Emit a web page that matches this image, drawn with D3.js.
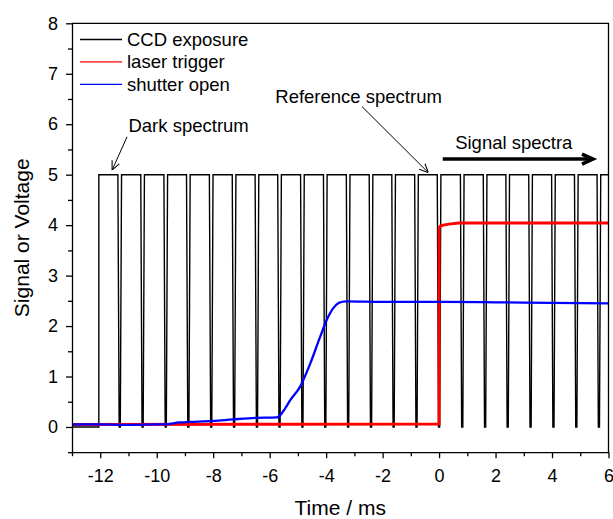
<!DOCTYPE html>
<html>
<head>
<meta charset="utf-8">
<script src="https://cdn.jsdelivr.net/npm/d3@7"></script>
<style>
  body { margin: 0; background: #fff; }
  svg { display: block; font-family: "Liberation Sans", Arial, sans-serif; }
</style>
</head>
<body>
<svg id="chart" width="613" height="519"></svg>
<script>
const width = 613
const height = 519
const margin = { top: 23.3, right: 4.5, bottom: 66.8, left: 72 }

// CCD exposure: starts at first edge, high at 5 with short dips to 0
const ccdStart = -12.05
const ccdHigh = 5
const ccdDips = [-11.31, -10.50, -9.68, -8.88, -8.07, -7.26, -6.45, -5.65, -4.84, -4.03,
    -3.22, -2.41, -1.61, -0.80, 0.0, 0.82, 1.63, 2.43, 3.24, 4.05, 4.86, 5.66]

// laser trigger (time, volts)
const laserT = [-13, -6, 0, 0.0, 0.05, 0.15, 0.35, 0.7, 2, 4, 6]
const laserV = [0.05, 0.055, 0.06, 3.95, 3.98, 4.0, 4.02, 4.04, 4.04, 4.04, 4.04]

// shutter open (time, volts)
const shutterT = [-13, -12, -11, -10, -9.7, -9.2, -8.8, -8, -7.3, -6.5, -5.75, -5.6, -5.45, -5.27, -4.92,
    -4.56, -4.21, -3.98, -3.74, -3.55, -3.3, -2, 0, 2, 4, 6]
const shutterV = [0.05, 0.05, 0.04, 0.05, 0.05, 0.09, 0.1, 0.12, 0.15, 0.18, 0.19, 0.25, 0.37, 0.53, 0.8,
    1.26, 1.79, 2.12, 2.36, 2.46, 2.49, 2.48, 2.48, 2.47, 2.46, 2.45]

const xMajor = [-12, -10, -8, -6, -4, -2, 0, 2, 4, 6]
const xMinor = [-13, -11, -9, -7, -5, -3, -1, 1, 3, 5]
const yMajor = [0, 1, 2, 3, 4, 5, 6, 7, 8]
const yMinor = [-0.5, 0.5, 1.5, 2.5, 3.5, 4.5, 5.5, 6.5, 7.5]

const legendItems = [
    { name: 'CCD exposure', color: '#000000' },
    { name: 'laser trigger', color: '#ff0000' },
    { name: 'shutter open', color: '#0000ff' }
]

const svg = d3.select('#chart')

const x = d3.scaleLinear()
    .domain([-13, 6])
    .range([margin.left, width - margin.right])

const y = d3.scaleLinear()
    .domain([-0.5, 8])
    .range([height - margin.bottom, margin.top])

svg.append("defs").append("clipPath").attr("id", "plot")
    .append("rect")
    .attr("x", x(-13)).attr("y", y(8))
    .attr("width", x(6) - x(-13)).attr("height", y(-0.5) - y(8))

// ccd path
const dipHalf = 0.065, dipFlat = 0.02
const ccdPts = [[-13, 0], [ccdStart, 0], [ccdStart, ccdHigh]]
ccdDips.forEach(d => {
    ccdPts.push([d - dipHalf, ccdHigh], [d - dipFlat, 0], [d + dipFlat, 0], [d + dipHalf, ccdHigh])
})
ccdPts.push([6, ccdHigh])

const line = d3.line().x(d => x(d[0])).y(d => y(d[1]))

const traces = svg.append("g").attr("clip-path", "url(#plot)")

traces.append("path")
    .attr("d", line(ccdPts))
    .attr("fill", "none")
    .attr("stroke", "#000")
    .attr("stroke-width", 1.4)

traces.append("path")
    .attr("d", line(laserT.map((t, i) => [t, laserV[i]])))
    .attr("fill", "none")
    .attr("stroke", "#ff0000")
    .attr("stroke-width", 3)

traces.append("path")
    .attr("d", line.curve(d3.curveMonotoneX)(shutterT.map((t, i) => [t, shutterV[i]])))
    .attr("fill", "none")
    .attr("stroke", "#0000ff")
    .attr("stroke-width", 2.3)
    .attr("stroke-linejoin", "round")

// axes
const xAxis = g => g
    .attr("transform", `translate(0,${y(-0.5)})`)
    .call(d3.axisBottom(x).tickValues(xMajor).tickSize(6).tickPadding(11).tickSizeOuter(0))
    .call(g => g.append("g").call(d3.axisBottom(x).tickValues(xMinor).tickSize(4).tickFormat(""))
        .call(g => g.select(".domain").remove()))

const yAxis = g => g
    .attr("transform", `translate(${x(-13)},0)`)
    .call(d3.axisLeft(y).tickValues(yMajor).tickSize(6).tickPadding(8).tickSizeOuter(0))
    .call(g => g.append("g").call(d3.axisLeft(y).tickValues(yMinor).tickSize(4).tickFormat(""))
        .call(g => g.select(".domain").remove()))

svg.append("g").call(xAxis)
svg.append("g").call(yAxis)

svg.selectAll(".tick text")
    .attr("font-family", "Liberation Sans, Arial, sans-serif")
    .attr("font-size", 18)
    .text(function () { return d3.select(this).text().replace("\u2212", "-") })
svg.selectAll(".domain, .tick line").attr("stroke", "#000").attr("stroke-width", 1.3)

// frame top and right
svg.append("path")
    .attr("d", `M${x(-13)},${y(8)}H${x(6)}V${y(-0.5)}`)
    .attr("fill", "none")
    .attr("stroke", "#000")
    .attr("stroke-width", 1.3)

// axis titles
svg.append("text")
    .attr("x", (x(-13) + x(6)) / 2)
    .attr("y", 515)
    .attr("text-anchor", "middle")
    .attr("font-size", 21)
    .text("Time / ms")

svg.append("text")
    .attr("transform", `translate(29,${(y(-0.5) + y(8)) / 2}) rotate(-90)`)
    .attr("text-anchor", "middle")
    .attr("font-size", 21)
    .text("Signal or Voltage")

// legend
const legend = svg.append("g").attr("transform", "translate(80,39.5)")
legendItems.forEach((d, i) => {
    const row = legend.append("g").attr("transform", `translate(0,${i * 22.4})`)
    row.append("line").attr("x1", 0).attr("x2", 42).attr("stroke", d.color).attr("stroke-width", 1.3)
    row.append("text").attr("x", 47).attr("y", 6.5).attr("font-size", 18.5).text(d.name)
})

// annotations (data units)
const annotations = [
    { label: 'Dark spectrum', tx: -11.0, ty: 5.85, from: [-11.05, 5.75], to: [-11.58, 5.09] },
    { label: 'Reference spectrum', tx: -5.8, ty: 6.43, from: [-2.73, 6.35], to: [-0.38, 5.04] }
]

const defs = svg.select("defs")
defs.append("marker")
    .attr("id", "openArrow")
    .attr("viewBox", "0 0 10 10")
    .attr("refX", 10).attr("refY", 5)
    .attr("markerWidth", 9).attr("markerHeight", 9)
    .attr("markerUnits", "userSpaceOnUse")
    .attr("orient", "auto")
    .append("path")
    .attr("d", "M0,0.5L10,5L0,9.5")
    .attr("fill", "none")
    .attr("stroke", "#000")
    .attr("stroke-width", 1.2)

annotations.forEach(a => {
    svg.append("text")
        .attr("x", x(a.tx)).attr("y", y(a.ty))
        .attr("font-size", 18.5)
        .text(a.label)
    svg.append("line")
        .attr("x1", x(a.from[0])).attr("y1", y(a.from[1]))
        .attr("x2", x(a.to[0])).attr("y2", y(a.to[1]))
        .attr("stroke", "#000")
        .attr("stroke-width", 1)
        .attr("marker-end", "url(#openArrow)")
})

svg.append("text")
    .attr("x", x(0.57)).attr("y", y(5.5))
    .attr("font-size", 18.5)
    .text("Signal spectra")

svg.append("line")
    .attr("x1", x(0.13)).attr("y1", y(5.31))
    .attr("x2", x(5.45)).attr("y2", y(5.31))
    .attr("stroke", "#000")
    .attr("stroke-width", 3.5)
svg.append("path")
    .attr("d", `M${x(5.45) - 11},${y(5.31) - 5}L${x(5.45)},${y(5.31)}L${x(5.45) - 11},${y(5.31) + 5}`)
    .attr("fill", "none")
    .attr("stroke", "#000")
    .attr("stroke-width", 3.5)
</script>
</body>
</html>
